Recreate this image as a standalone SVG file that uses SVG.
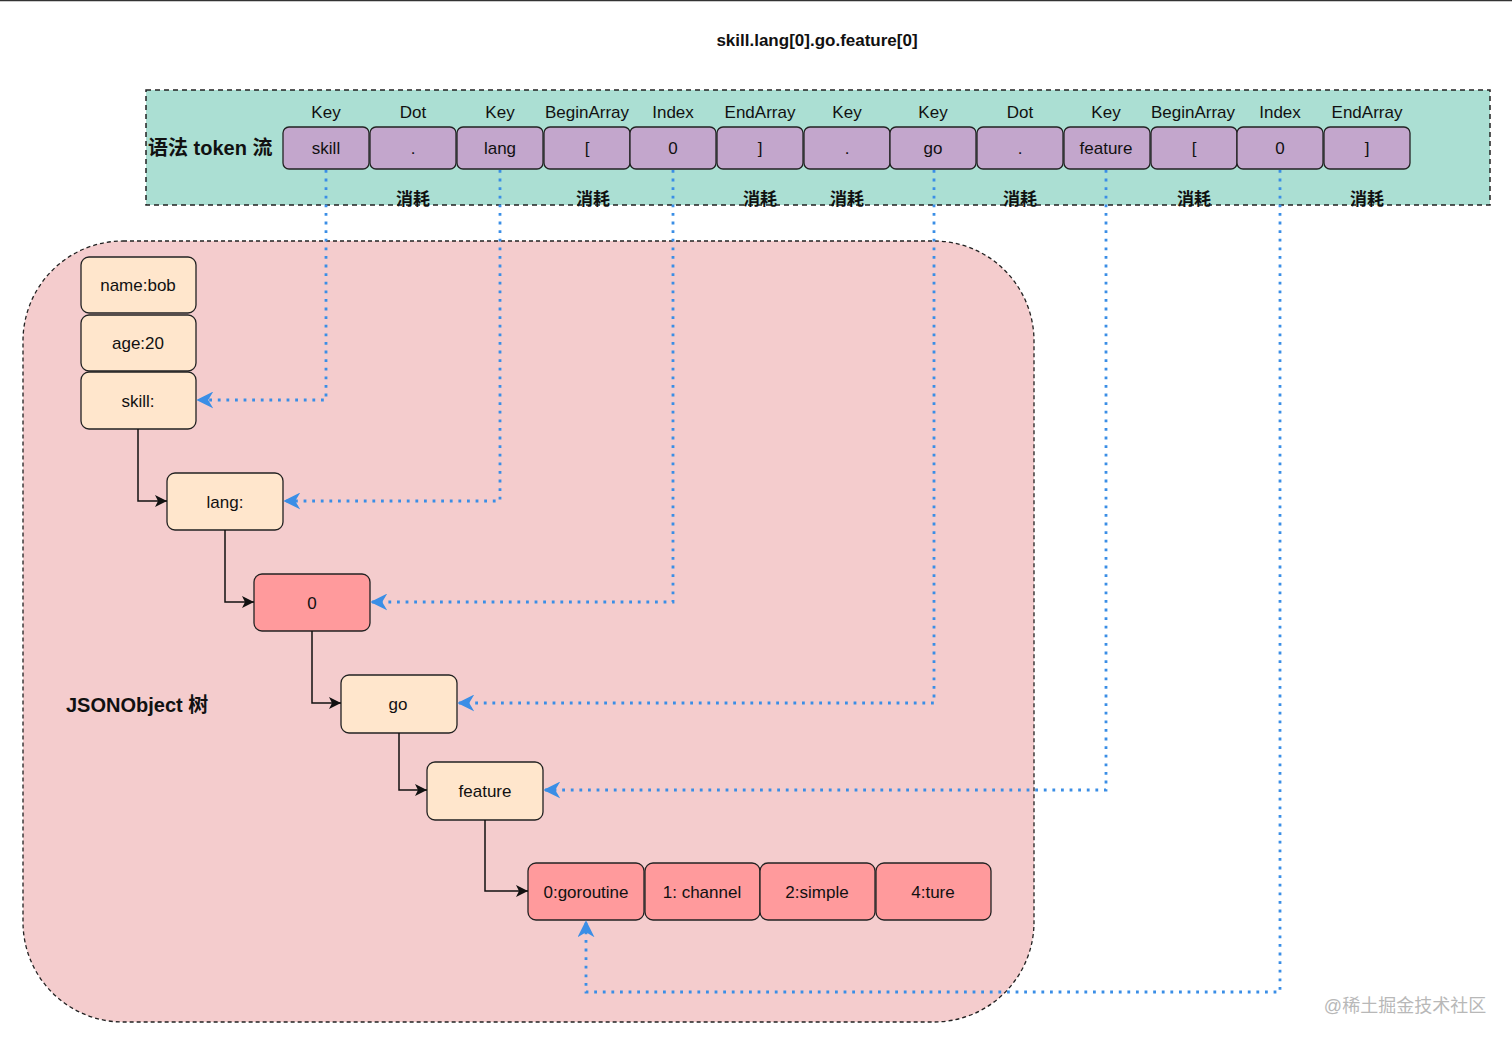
<svg xmlns="http://www.w3.org/2000/svg" width="1512" height="1043" viewBox="0 0 1512 1043">
<style>
  text { font-family: "Liberation Sans", Arial, "Noto Sans CJK SC", sans-serif; fill: #111; }
  .lbl { font-size: 17px; text-anchor: middle; }
  .tok { fill: #c3a6cc; stroke: #222; stroke-width: 1.3; }
  .obj { fill: #ffe6cc; stroke: #222; stroke-width: 1.3; }
  .red { fill: #ff9a9c; stroke: #222; stroke-width: 1.3; }
  .bold { font-weight: bold; }
  .cost { font-size: 17px; font-weight: bold; text-anchor: middle; }
  .blk { fill: none; stroke: #111; stroke-width: 1.5; marker-end: url(#ab); }
  .blu { fill: none; stroke: #3a8ee6; stroke-width: 2.8; stroke-dasharray: 2.8 5.8; marker-end: url(#au); }
</style>
<defs>
  <marker id="ab" viewBox="0 0 10 10" refX="10" refY="5" markerWidth="14" markerHeight="12" markerUnits="userSpaceOnUse" orient="auto">
    <path d="M0,0 L10,5 L0,10 L2.5,5 Z" fill="#111"/>
  </marker>
  <marker id="au" viewBox="0 0 10 10" refX="9" refY="5" markerWidth="17" markerHeight="17" markerUnits="userSpaceOnUse" orient="auto">
    <path d="M0,0 L10,5 L0,10 L3,5 Z" fill="#3a8ee6"/>
  </marker>
</defs>
<rect x="0" y="0" width="1512" height="1043" fill="#ffffff"/>
<line x1="0" y1="0.5" x2="1512" y2="0.5" stroke="#333" stroke-width="1.5"/>

<text x="817" y="46" font-size="17" class="bold" text-anchor="middle">skill.lang[0].go.feature[0]</text>

<g id="token-stream">
  <rect x="146" y="90" width="1344" height="115" fill="#abdfd3" stroke="#222" stroke-width="1.5" stroke-dasharray="5 4"/>
  <text x="148" y="155" font-size="20" class="bold">语法 token 流</text>
</g>

<g id="tokens">
  <g id="t1"><rect class="tok" x="283" y="127" width="86" height="42" rx="6"/><text class="lbl" x="326" y="154">skill</text><text class="lbl" x="326" y="118">Key</text></g>
  <g id="t2"><rect class="tok" x="370" y="127" width="86" height="42" rx="6"/><text class="lbl" x="413" y="154">.</text><text class="lbl" x="413" y="118">Dot</text></g>
  <g id="t3"><rect class="tok" x="457" y="127" width="86" height="42" rx="6"/><text class="lbl" x="500" y="154">lang</text><text class="lbl" x="500" y="118">Key</text></g>
  <g id="t4"><rect class="tok" x="544" y="127" width="86" height="42" rx="6"/><text class="lbl" x="587" y="154">[</text><text class="lbl" x="587" y="118">BeginArray</text></g>
  <g id="t5"><rect class="tok" x="630" y="127" width="86" height="42" rx="6"/><text class="lbl" x="673" y="154">0</text><text class="lbl" x="673" y="118">Index</text></g>
  <g id="t6"><rect class="tok" x="717" y="127" width="86" height="42" rx="6"/><text class="lbl" x="760" y="154">]</text><text class="lbl" x="760" y="118">EndArray</text></g>
  <g id="t7"><rect class="tok" x="804" y="127" width="86" height="42" rx="6"/><text class="lbl" x="847" y="154">.</text><text class="lbl" x="847" y="118">Key</text></g>
  <g id="t8"><rect class="tok" x="890" y="127" width="86" height="42" rx="6"/><text class="lbl" x="933" y="154">go</text><text class="lbl" x="933" y="118">Key</text></g>
  <g id="t9"><rect class="tok" x="977" y="127" width="86" height="42" rx="6"/><text class="lbl" x="1020" y="154">.</text><text class="lbl" x="1020" y="118">Dot</text></g>
  <g id="t10"><rect class="tok" x="1064" y="127" width="86" height="42" rx="6"/><text class="lbl" x="1106" y="154">feature</text><text class="lbl" x="1106" y="118">Key</text></g>
  <g id="t11"><rect class="tok" x="1151" y="127" width="86" height="42" rx="6"/><text class="lbl" x="1194" y="154">[</text><text class="lbl" x="1193" y="118">BeginArray</text></g>
  <g id="t12"><rect class="tok" x="1237" y="127" width="86" height="42" rx="6"/><text class="lbl" x="1280" y="154">0</text><text class="lbl" x="1280" y="118">Index</text></g>
  <g id="t13"><rect class="tok" x="1324" y="127" width="86" height="42" rx="6"/><text class="lbl" x="1367" y="154">]</text><text class="lbl" x="1367" y="118">EndArray</text></g>
</g>

<g id="costs">
  <text class="cost" x="413" y="205">消耗</text>
  <text class="cost" x="593" y="205">消耗</text>
  <text class="cost" x="760" y="205">消耗</text>
  <text class="cost" x="847" y="205">消耗</text>
  <text class="cost" x="1020" y="205">消耗</text>
  <text class="cost" x="1194" y="205">消耗</text>
  <text class="cost" x="1367" y="205">消耗</text>
</g>

<g id="json-tree">
  <rect x="23" y="241" width="1011" height="781" rx="100" ry="100" fill="#f4cccd" stroke="#222" stroke-width="1.3" stroke-dasharray="4 3"/>
  <text x="66" y="712" font-size="20" class="bold">JSONObject 树</text>
</g>

<g id="n-name"><rect class="obj" x="81" y="257" width="115" height="56" rx="8"/><text class="lbl" x="138" y="291">name:bob</text></g>
<g id="n-age"><rect class="obj" x="81" y="315" width="115" height="56" rx="8"/><text class="lbl" x="138" y="349">age:20</text></g>
<g id="n-skill"><rect class="obj" x="81" y="372" width="115" height="57" rx="8"/><text class="lbl" x="138" y="407">skill:</text></g>
<g id="n-lang"><rect class="obj" x="167" y="473" width="116" height="57" rx="8"/><text class="lbl" x="225" y="508">lang:</text></g>
<g id="n-0"><rect class="red" x="254" y="574" width="116" height="57" rx="8"/><text class="lbl" x="312" y="609">0</text></g>
<g id="n-go"><rect class="obj" x="341" y="675" width="116" height="58" rx="8"/><text class="lbl" x="398" y="710">go</text></g>
<g id="n-feature"><rect class="obj" x="427" y="762" width="116" height="58" rx="8"/><text class="lbl" x="485" y="797">feature</text></g>
<g id="n-a0"><rect class="red" x="528" y="863" width="116" height="57" rx="8"/><text class="lbl" x="586" y="898">0:goroutine</text></g>
<g id="n-a1"><rect class="red" x="645" y="863" width="115" height="57" rx="8"/><text class="lbl" x="702" y="898">1: channel</text></g>
<g id="n-a2"><rect class="red" x="760" y="863" width="115" height="57" rx="8"/><text class="lbl" x="817" y="898">2:simple</text></g>
<g id="n-a3"><rect class="red" x="876" y="863" width="115" height="57" rx="8"/><text class="lbl" x="933" y="898">4:ture</text></g>

<g id="connectors">
  <path class="blk" d="M138,429 V501 H167"/>
  <path class="blk" d="M225,530 V602 H254"/>
  <path class="blk" d="M312,631 V703 H341"/>
  <path class="blk" d="M399,733 V790 H427"/>
  <path class="blk" d="M485,820 V891 H528"/>

  <path class="blu" d="M326,170 V400 H198"/>
  <path class="blu" d="M500,170 V501 H285"/>
  <path class="blu" d="M673,170 V602 H372"/>
  <path class="blu" d="M934,170 V703 H459"/>
  <path class="blu" d="M1106,170 V790 H545"/>
  <path class="blu" d="M1280,170 V992 H586 V922"/>
</g>

<text x="1405" y="1012" font-size="18" style="fill:#b8b8b8" text-anchor="middle">@稀土掘金技术社区</text>
</svg>
